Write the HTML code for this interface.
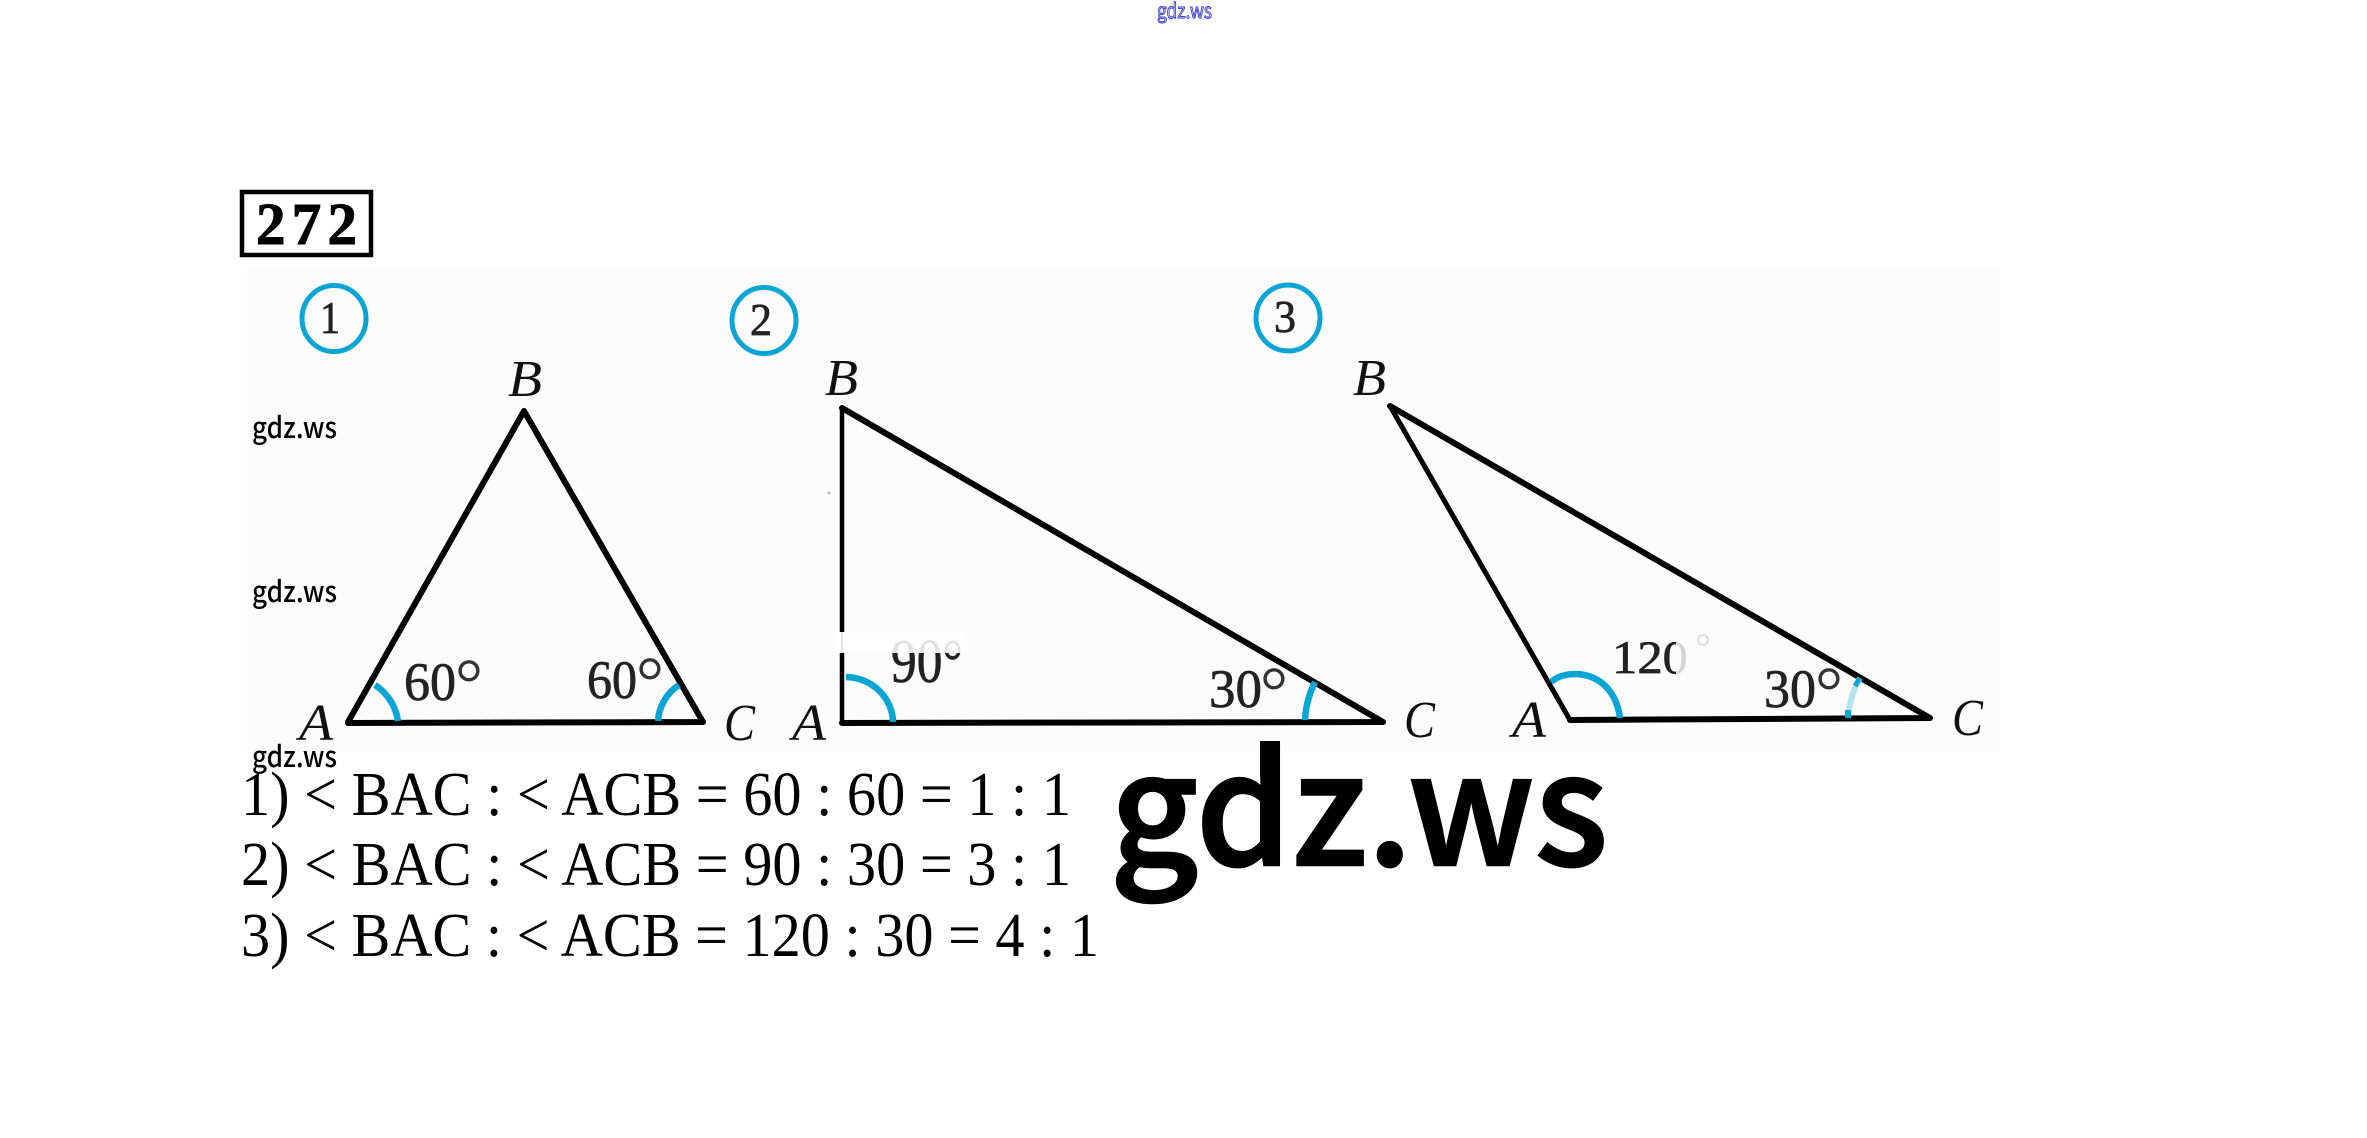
<!DOCTYPE html>
<html><head><meta charset="utf-8"><style>
html,body{margin:0;padding:0;background:#fff;width:2367px;height:1138px;overflow:hidden}
svg{display:block}
.s{font-family:"Liberation Serif",serif}
.i{font-family:"Liberation Serif",serif;font-style:italic;font-size:52px;fill:#111}
.d{font-family:"Liberation Serif",serif;font-size:54px;fill:#222;stroke:#222;stroke-width:.7}
.o{font-family:"Liberation Serif",serif;font-size:70px;fill:#333}
.n{font-family:"Liberation Serif",serif;font-size:46px;fill:#222;stroke:#222;stroke-width:.8}
.m{font-family:"Liberation Serif",serif;font-size:62px;fill:#000}
.w{font-family:"Noto Sans CJK JP","Liberation Sans",sans-serif;font-size:29px;font-weight:500;fill:#000}
.l{fill:none;stroke:#000;stroke-linecap:round}
.a{fill:none;stroke:#0aa5d5;stroke-width:6.5}
.c{fill:none;stroke:#0aa5d5;stroke-width:5}
</style></head><body>
<svg width="2367" height="1138" viewBox="0 0 2367 1138" xmlns="http://www.w3.org/2000/svg">
<defs>
<clipPath id="c90"><rect x="880" y="653" width="90" height="40"/></clipPath>
<clipPath id="c0"><rect x="1600" y="630" width="76" height="60"/></clipPath>
</defs>
<rect width="2367" height="1138" fill="#fff"/>
<text x="1157" y="18" font-family="Noto Sans CJK JP,Liberation Sans,sans-serif" font-size="20" fill="#dfe0ff" stroke="#3434c8" stroke-width="0.9" textLength="55" lengthAdjust="spacingAndGlyphs">gdz.ws</text>

<rect x="246" y="270" width="1754" height="482" fill="#fcfcfc"/>

<rect x="242" y="192" width="129" height="63" fill="#fff" stroke="#000" stroke-width="4.5"/>
<text x="256" y="244" class="s" font-weight="bold" font-size="59" textLength="101" lengthAdjust="spacing" fill="#000" stroke="#000" stroke-width="1">272</text>

<ellipse cx="334" cy="318.5" rx="32" ry="33" class="c"/>
<text x="320" y="333" class="n" textLength="20" lengthAdjust="spacingAndGlyphs">1</text>
<ellipse cx="764" cy="320.5" rx="32" ry="33" class="c"/>
<text x="750" y="335" class="n" textLength="22" lengthAdjust="spacingAndGlyphs">2</text>
<ellipse cx="1288" cy="318" rx="32" ry="33" class="c"/>
<text x="1274" y="332" class="n" textLength="22" lengthAdjust="spacingAndGlyphs">3</text>

<!-- triangle 1 -->
<path class="l" stroke-width="6" d="M524 411 L348 722 M524 411 L703 722 M348 723 L703 722"/>
<path class="a" d="M375 685 A52 52 0 0 1 398 721"/>
<path class="a" d="M679 685 A46 46 0 0 0 658 721"/>
<text x="508" y="396" class="i" textLength="34" lengthAdjust="spacingAndGlyphs">B</text>
<text x="299" y="740" class="i" textLength="34" lengthAdjust="spacingAndGlyphs">A</text>
<text x="724" y="740" class="i" textLength="31" lengthAdjust="spacingAndGlyphs">C</text>
<text x="404" y="700" class="d" textLength="52" lengthAdjust="spacingAndGlyphs">60</text>
<text x="455" y="707" class="o">°</text>
<text x="587" y="698" class="d" textLength="50" lengthAdjust="spacingAndGlyphs">60</text>
<text x="636" y="705" class="o">°</text>

<!-- triangle 2 -->
<path class="l" stroke-width="4.5" d="M842 408 L842 723"/>
<path class="l" stroke-width="6" d="M842 408 L1383 722 M842 723 L1383 722"/>
<path class="a" d="M846 677 A48 46 0 0 1 893 722"/>
<path class="a" d="M1315 682 Q1306 700 1305 720"/>
<rect x="836" y="632" width="14" height="21" fill="#fff"/>
<rect x="841" y="632" width="2" height="21" fill="#e2e2e2"/>
<rect x="850" y="633" width="115" height="20" fill="#fff"/>
<text x="891" y="682" class="d" textLength="72" lengthAdjust="spacingAndGlyphs" style="font-size:62px;fill:#e2e2e2;stroke:none">90°</text>
<text x="891" y="682" class="d" textLength="72" lengthAdjust="spacingAndGlyphs" clip-path="url(#c90)" style="font-size:62px">90°</text>
<text x="1209" y="707" class="d" textLength="53" lengthAdjust="spacingAndGlyphs">30</text>
<text x="1260" y="715" class="o">°</text>
<text x="825" y="395" class="i" textLength="33" lengthAdjust="spacingAndGlyphs">B</text>
<text x="792" y="740" class="i" textLength="34" lengthAdjust="spacingAndGlyphs">A</text>
<text x="1404" y="737" class="i" textLength="31" lengthAdjust="spacingAndGlyphs">C</text>
<circle cx="829" cy="493" r="1.5" fill="#bbb"/>

<!-- triangle 3 -->
<path class="l" stroke-width="5" d="M1390 406 L1570 720"/>
<path class="l" stroke-width="6" d="M1390 406 L1930 718 M1570 720 L1930 718"/>
<path class="a" d="M1551 682 C1566 668 1613 668 1620 718"/>
<path d="M1860 678 Q1850 695 1848 718" fill="none" stroke="#b6e2f2" stroke-width="6"/>
<path d="M1860 678 L1855 686" fill="none" stroke="#0aa5d5" stroke-width="5"/>
<path d="M1848 710 L1848 718" fill="none" stroke="#0aa5d5" stroke-width="6"/>
<text x="1353" y="395" class="i" textLength="33" lengthAdjust="spacingAndGlyphs">B</text>
<text x="1512" y="737" class="i" textLength="34" lengthAdjust="spacingAndGlyphs">A</text>
<text x="1952" y="735" class="i" textLength="31" lengthAdjust="spacingAndGlyphs">C</text>
<text x="1612" y="673" class="d" textLength="76" lengthAdjust="spacingAndGlyphs" style="font-size:47px;fill:#d4d4d4;stroke:none">120</text>
<text x="1612" y="673" class="d" textLength="76" lengthAdjust="spacingAndGlyphs" clip-path="url(#c0)" style="font-size:47px">120</text>
<circle cx="1703" cy="640" r="5" fill="none" stroke="#ddd" stroke-width="2"/>
<text x="1764" y="707" class="d" textLength="52" lengthAdjust="spacingAndGlyphs">30</text>
<text x="1815" y="715" class="o">°</text>

<text x="252" y="438" class="w" textLength="85" lengthAdjust="spacingAndGlyphs">gdz.ws</text>
<text x="252" y="602" class="w" textLength="85" lengthAdjust="spacingAndGlyphs">gdz.ws</text>
<text x="252" y="767" class="w" textLength="85" lengthAdjust="spacingAndGlyphs">gdz.ws</text>

<text x="241" y="815" class="m" textLength="830" lengthAdjust="spacingAndGlyphs">1) &lt; BAC : &lt; ACB = 60 : 60 = 1 : 1</text>
<text x="241" y="885" class="m" textLength="830" lengthAdjust="spacingAndGlyphs">2) &lt; BAC : &lt; ACB = 90 : 30 = 3 : 1</text>
<text x="241" y="956" class="m" textLength="858" lengthAdjust="spacingAndGlyphs">3) &lt; BAC : &lt; ACB = 120 : 30 = 4 : 1</text>

<text x="1110" y="865" font-family="Noto Sans CJK JP,Liberation Sans,sans-serif" font-size="154" font-weight="500" fill="#000" stroke="#000" stroke-width="2.5" textLength="498" lengthAdjust="spacingAndGlyphs">gdz.ws</text>
</svg>
</body></html>
